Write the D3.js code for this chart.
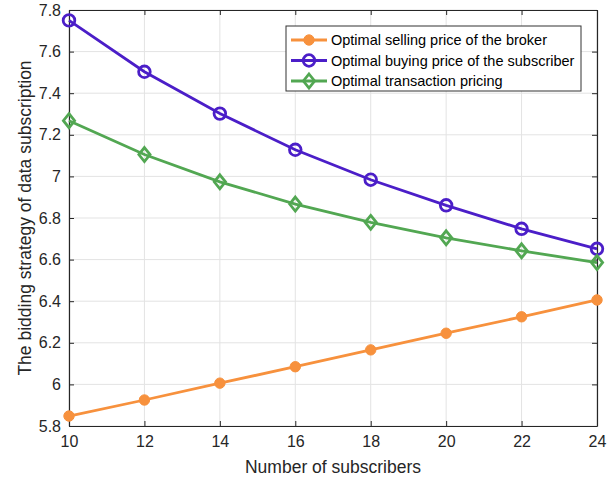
<!DOCTYPE html>
<html lang="en">
<head>
    <meta charset="utf-8">
    <script src="https://d3js.org/d3.v7.min.js"></script>
    <style type="text/css">
        body {
            margin: 0;
            background: white;
            font-family: "Liberation Sans", Arial, sans-serif;
        }
        .tick text {
            font-size: 16px;
            fill: #262626;
        }
    </style>
</head>
<body>
<svg id="chart"></svg>
<script type="text/javascript">
    var subscribers = [10, 12, 14, 16, 18, 20, 22, 24];
    var sellingPrice = [5.848, 5.925, 6.006, 6.085, 6.166, 6.246, 6.325, 6.406];
    var buyingPrice = [7.75, 7.503, 7.302, 7.128, 6.984, 6.861, 6.748, 6.652];
    var transactionPrice = [7.268, 7.105, 6.974, 6.867, 6.779, 6.705, 6.642, 6.586];
    var xTicks = [10, 12, 14, 16, 18, 20, 22, 24];
    var yTicks = [5.8, 6, 6.2, 6.4, 6.6, 6.8, 7, 7.2, 7.4, 7.6, 7.8];

    var series = [
        { name: "Optimal selling price of the broker", values: sellingPrice, color: "#f7913d", marker: "dot" },
        { name: "Optimal buying price of the subscriber", values: buyingPrice, color: "#4b1ec8", marker: "circle" },
        { name: "Optimal transaction pricing", values: transactionPrice, color: "#52a752", marker: "diamond" }
    ];

    var width = 610, height = 480;
    var mLeft = 69, mRight = 597, mTop = 10, mBottom = 426;

    var svg = d3.select("#chart")
        .attr("width", width)
        .attr("height", height);

    var x = d3.scaleLinear().domain([10, 24]).range([mLeft, mRight]);
    var y = d3.scaleLinear().domain([5.8, 7.8]).range([mBottom, mTop]);

    // grid
    var grid = svg.append("g");
    grid.selectAll(".vgrid")
        .data(xTicks)
        .join("line")
        .attr("x1", d => x(d)).attr("x2", d => x(d))
        .attr("y1", mTop).attr("y2", mBottom)
        .style("stroke", "#e3e3e3").style("stroke-width", 1);
    grid.selectAll(".hgrid")
        .data(yTicks)
        .join("line")
        .attr("y1", d => y(d)).attr("y2", d => y(d))
        .attr("x1", mLeft).attr("x2", mRight)
        .style("stroke", "#e3e3e3").style("stroke-width", 1);

    var fmt = function(d) { return String(+d.toFixed(1)); };

    // axes (ticks pointing inward)
    var xAxis = svg.append("g")
        .attr("transform", "translate(0," + mBottom + ")")
        .call(d3.axisBottom(x).tickValues(xTicks).tickSizeInner(-5).tickSizeOuter(0).tickPadding(10));
    var xAxisTop = svg.append("g")
        .attr("transform", "translate(0," + mTop + ")")
        .call(d3.axisTop(x).tickValues(xTicks).tickSizeInner(-5).tickSizeOuter(0).tickFormat(""));
    var yAxis = svg.append("g")
        .attr("transform", "translate(" + mLeft + ",0)")
        .call(d3.axisLeft(y).tickValues(yTicks).tickSizeInner(-5).tickSizeOuter(0).tickPadding(8).tickFormat(fmt));
    var yAxisRight = svg.append("g")
        .attr("transform", "translate(" + mRight + ",0)")
        .call(d3.axisRight(y).tickValues(yTicks).tickSizeInner(-5).tickSizeOuter(0).tickFormat(""));

    [xAxis, xAxisTop, yAxis, yAxisRight].forEach(function(a) {
        a.select(".domain").style("stroke", "#262626").style("stroke-width", 1.2);
        a.selectAll(".tick line").style("stroke", "#262626");
        a.attr("font-family", null).attr("font-size", null);
    });

    // lines
    var line = d3.line()
        .x((d, i) => x(subscribers[i]))
        .y(d => y(d));

    function drawMarker(g, type, color, cx, cy) {
        if (type === "dot") {
            g.append("circle").attr("cx", cx).attr("cy", cy).attr("r", 5.2)
                .style("fill", color).style("stroke", color).style("stroke-width", 1);
        } else if (type === "circle") {
            g.append("circle").attr("cx", cx).attr("cy", cy).attr("r", 5.8)
                .style("fill", "none").style("stroke", color).style("stroke-width", 2.8);
        } else {
            var s = 7;
            g.append("path")
                .attr("d", "M" + cx + "," + (cy - s) + "L" + (cx + s * 0.8) + "," + cy + "L" + cx + "," + (cy + s) + "L" + (cx - s * 0.8) + "," + cy + "Z")
                .style("fill", "none").style("stroke", color).style("stroke-width", 2.8);
        }
    }

    series.forEach(function(s) {
        var g = svg.append("g");
        g.append("path")
            .datum(s.values)
            .attr("d", line)
            .style("fill", "none")
            .style("stroke", s.color)
            .style("stroke-width", 2.8);
        s.values.forEach(function(v, i) {
            drawMarker(g, s.marker, s.color, x(subscribers[i]), y(v));
        });
    });

    // legend
    var legend = svg.append("g");
    legend.append("rect")
        .attr("x", 286).attr("y", 26).attr("width", 295).attr("height", 65)
        .style("fill", "white").style("stroke", "#333").style("stroke-width", 1);
    series.forEach(function(s, i) {
        var ly = 40 + i * 20.5;
        var lg = legend.append("g");
        lg.append("line")
            .attr("x1", 291).attr("x2", 327).attr("y1", ly).attr("y2", ly)
            .style("stroke", s.color).style("stroke-width", 2.8);
        drawMarker(lg, s.marker, s.color, 309, ly);
        lg.append("text")
            .attr("x", 331).attr("y", ly + 5)
            .style("font-size", "14.5px")
            .style("fill", "#000")
            .text(s.name);
    });

    // axis labels
    svg.append("text")
        .attr("x", (mLeft + mRight) / 2)
        .attr("y", 473)
        .attr("text-anchor", "middle")
        .style("font-size", "17.5px")
        .style("fill", "#262626")
        .text("Number of subscribers");
    svg.append("text")
        .attr("transform", "translate(31," + ((mTop + mBottom) / 2) + ") rotate(-90)")
        .attr("text-anchor", "middle")
        .style("font-size", "17.5px")
        .style("fill", "#262626")
        .text("The bidding strategy of data subscription");
</script>
</body>
</html>
